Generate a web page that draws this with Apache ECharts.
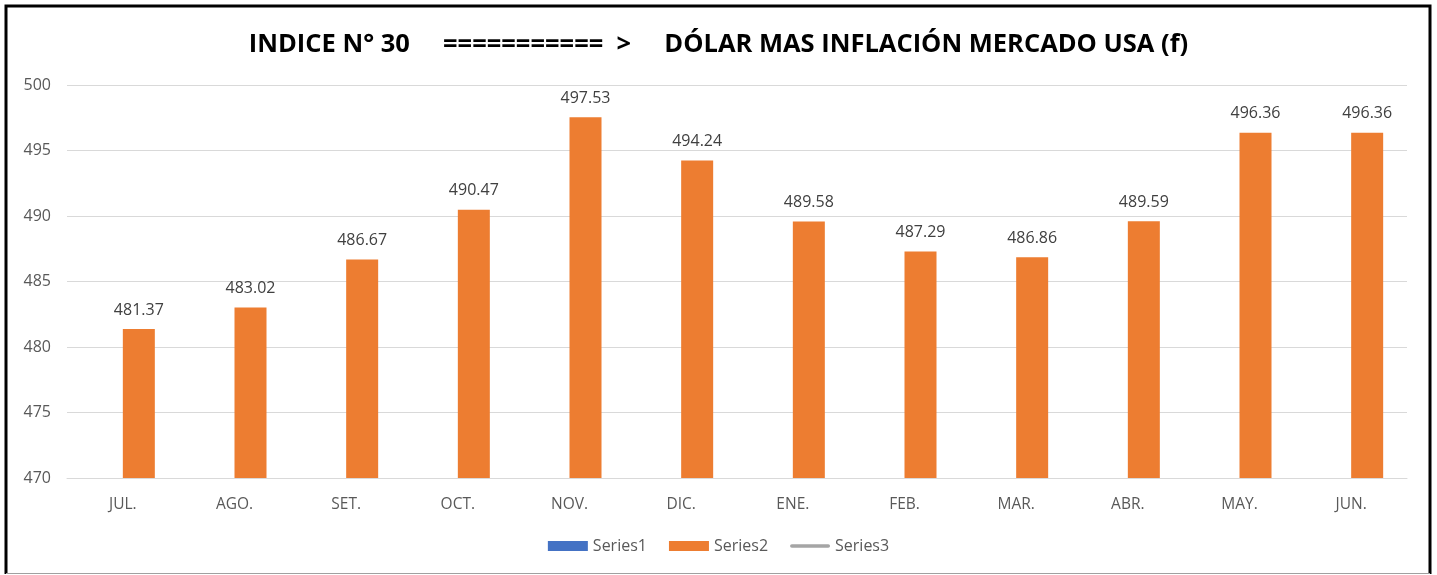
<!DOCTYPE html>
<html><head><meta charset="utf-8">
<script src="https://cdn.jsdelivr.net/npm/echarts@6/dist/echarts.min.js"></script>
<style>html,body{margin:0;padding:0;background:#fff}#c{width:1437px;height:575px}</style>
</head><body><div id="c"></div>
<script>
const categories = ['JUL.','AGO.','SET.','OCT.','NOV.','DIC.','ENE.','FEB.','MAR.','ABR.','MAY.','JUN.'];
const series2 = [481.37, 483.02, 486.67, 490.47, 497.53, 494.24, 489.58, 487.29, 486.86, 489.59, 496.36, 496.36];
const series1 = [];
const series3 = [];
const titleText = 'INDICE N° 30     ===========  >     DÓLAR MAS INFLACIÓN MERCADO USA (f)';
const font = '"Open Sans", sans-serif';
const chart = echarts.init(document.getElementById('c'), null, {renderer:'canvas'});
chart.setOption({
  animation:false,
  backgroundColor:'#fff',
  title:{text:titleText,left:'center',top:27,textStyle:{fontFamily:font,fontWeight:'bold',fontSize:25.5,color:'#000'}},
  grid:{left:67,right:30,top:85,bottom:97,containLabel:false},
  legend:{bottom:16,left:'center',itemWidth:40,itemHeight:10,itemGap:22,symbolKeepAspect:true,
    textStyle:{fontFamily:font,fontSize:16,color:'#595959'},
    data:[{name:'Series1',icon:'rect'},{name:'Series2',icon:'rect'},
      {name:'Series3',icon:'path://M2,0 L42,0 A2,2 0 0 1 42,4 L2,4 A2,2 0 0 1 2,0 Z',itemStyle:{color:'#A5A5A5'}}]},
  xAxis:{type:'category',data:categories,axisTick:{show:false},
    axisLine:{lineStyle:{color:'#D9D9D9',width:1}},
    axisLabel:{fontFamily:font,fontSize:15.5,color:'#595959',margin:19}},
  yAxis:{type:'value',min:470,max:500,interval:5,
    axisLine:{show:false},axisTick:{show:false},
    splitLine:{lineStyle:{color:'#D9D9D9',width:1}},
    axisLabel:{fontFamily:font,fontSize:16,color:'#595959',margin:16}},
  series:[
    {name:'Series1',type:'bar',data:series1,itemStyle:{color:'#4472C4'},barWidth:32,barGap:0},
    {name:'Series2',type:'bar',data:series2,itemStyle:{color:'#ED7D31'},barWidth:32,barGap:0,
      label:{show:true,position:'top',distance:11,fontFamily:font,fontSize:16,color:'#404040',
        formatter:p=>p.value.toFixed(2)}},
    {name:'Series3',type:'line',data:series3,symbol:'none',itemStyle:{color:'#A5A5A5'},lineStyle:{color:'#A5A5A5',width:4,cap:'round'}}
  ],
  graphic:[
    {type:'polyline',shape:{points:[[6,574],[6,6],[1430,6],[1430,574]]},style:{stroke:'#000',lineWidth:3,fill:null},z:100},
    {type:'line',shape:{x1:6,y1:573.5,x2:1430,y2:573.5},style:{stroke:'#A0A0A0',lineWidth:1},z:100}
  ]
});
</script></body></html>
